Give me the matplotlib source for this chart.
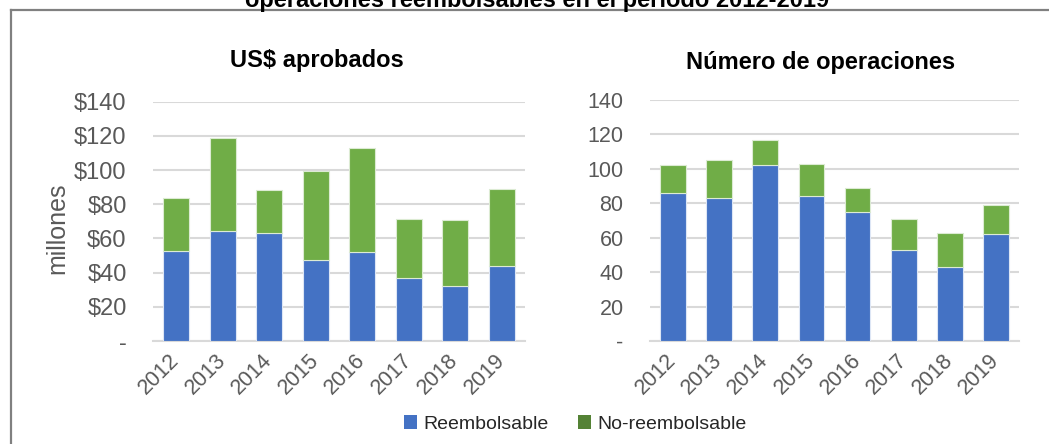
import matplotlib
matplotlib.use("Agg")
import matplotlib.pyplot as plt
from matplotlib.patches import Patch
from matplotlib.lines import Line2D

plt.rcParams['font.family'] = ['Liberation Sans', 'DejaVu Sans']

years = ['2012', '2013', '2014', '2015', '2016', '2017', '2018', '2019']
# US$ aprobados (millones)
usd_reemb = [52.5, 64.2, 63.0, 47.4, 51.9, 36.6, 31.9, 44.1]
usd_total = [83.8, 118.7, 88.5, 99.3, 113.0, 71.5, 70.9, 89.1]
usd_noreemb = [t - r for t, r in zip(usd_total, usd_reemb)]
# Numero de operaciones
ops_reemb = [86, 83, 102, 84, 75, 53, 43, 62]
ops_total = [102, 105, 117, 103, 89, 71, 63, 79]
ops_noreemb = [t - r for t, r in zip(ops_total, ops_reemb)]

usd_ticks = [0, 20, 40, 60, 80, 100, 120, 140]
usd_ticklabels = ['-', '$20', '$40', '$60', '$80', '$100', '$120', '$140']
ops_ticks = [0, 20, 40, 60, 80, 100, 120, 140]
ops_ticklabels = ['-', '20', '40', '60', '80', '100', '120', '140']

BLUE = '#4472C4'
GREEN = '#70AD47'
GRID = '#D9D9D9'
TXT = '#595959'

W, H = 1049, 444
fig = plt.figure(figsize=(W / 100, H / 100), dpi=100)

def px(x0, y0, x1, y1):
    return [x0 / W, 1 - y1 / H, (x1 - x0) / W, (y1 - y0) / H]

def draw(ax, reemb, noreemb, ticks, ticklabels, ysize):
    x = range(len(years))
    ax.bar(x, reemb, width=0.56, color=BLUE, edgecolor='#dde6f5', linewidth=0.8, zorder=3)
    ax.bar(x, noreemb, bottom=reemb, width=0.56, color=GREEN, edgecolor='#dcebd3', linewidth=0.8, zorder=3)
    ax.set_xlim(-0.5, len(years) - 0.5)
    ax.set_ylim(0, 140)
    ax.set_yticks(ticks)
    ax.set_yticklabels(ticklabels, fontsize=ysize, color=TXT)
    ax.set_xticks(list(x))
    ax.set_xticklabels(years, fontsize=15.5, color=TXT, rotation=45,
                       ha='right', va='center', rotation_mode='anchor')
    ax.tick_params(axis='both', length=0)
    ax.tick_params(axis='y', pad=19)
    ax.tick_params(axis='x', pad=12)
    for s in ['top', 'right', 'left']:
        ax.spines[s].set_visible(False)
    ax.spines['bottom'].set_color(GRID)
    ax.spines['bottom'].set_linewidth(1.5)
    ax.grid(axis='y', color=GRID, linewidth=1.5, zorder=0)
    ax.set_axisbelow(True)

ax1 = fig.add_axes(px(153, 101.7, 525, 341))
draw(ax1, usd_reemb, usd_noreemb, usd_ticks, usd_ticklabels, 17)
ax2 = fig.add_axes(px(650, 100, 1019, 341))
draw(ax2, ops_reemb, ops_noreemb, ops_ticks, ops_ticklabels, 15.5)

fig.text(57 / W, 1 - 228 / H, 'millones', rotation=90, fontsize=18, color=TXT,
         ha='center', va='center')
fig.text(317 / W, 1 - 60 / H, 'US$ aprobados', fontsize=17, fontweight='bold',
         ha='center', va='center')
fig.text(821 / W, 1 - 62 / H, 'Número de operaciones', fontsize=17, fontweight='bold',
         ha='center', va='center')
# page title cut off at the top edge, as in the source
fig.text(537 / W, 1 - 7 / H, 'operaciones reembolsables en el período 2012-2019',
         fontsize=17, fontweight='bold', ha='center', va='baseline')

# frame around the figure
fig.add_artist(Line2D([11 / W, 11 / W], [0, 1 - 10.5 / H], transform=fig.transFigure,
                      color='#808080', linewidth=1.6))
fig.add_artist(Line2D([11 / W, 1], [1 - 10.5 / H, 1 - 10.5 / H], transform=fig.transFigure,
                      color='#808080', linewidth=1.6))

handles = [Patch(facecolor=BLUE, label='Reembolsable'),
           Patch(facecolor='#548235', label='No-reembolsable')]
fig.legend(handles=handles, loc='center', bbox_to_anchor=(575 / W, 1 - 424 / H), ncol=2,
           frameon=False, fontsize=14, handlelength=0.7, handleheight=0.7,
           handletextpad=0.3, columnspacing=1.5, labelcolor='#262626')

fig.savefig('out.png', dpi=100)
